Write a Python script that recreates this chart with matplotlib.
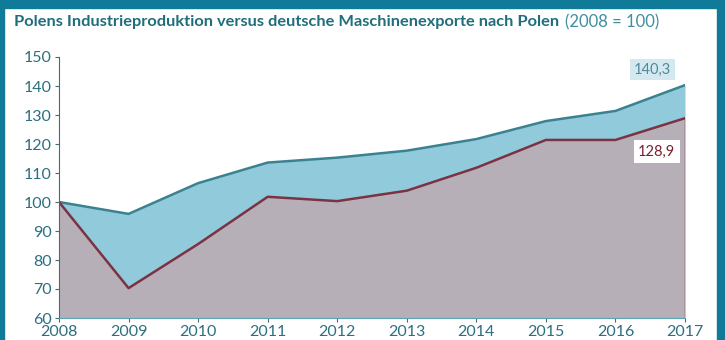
import matplotlib
matplotlib.use("Agg")
import matplotlib.pyplot as plt
from matplotlib.patches import Rectangle

years = [2008, 2009, 2010, 2011, 2012, 2013, 2014, 2015, 2016, 2017]
industrie = [100, 95.9, 106.5, 113.6, 115.3, 117.7, 121.7, 127.9, 131.4, 140.3]
maschinen = [100, 70.3, 85.5, 101.8, 100.3, 103.9, 111.8, 121.4, 121.4, 128.9]
yticks = [60, 70, 80, 90, 100, 110, 120, 130, 140, 150]

plt.rcParams['font.family'] = ['Lato', 'DejaVu Sans']

teal = '#0f7b98'
label_col = '#2b6f80'

fig = plt.figure(figsize=(7.25, 3.4), dpi=100)
ax = fig.add_axes([59/725, 22/340, 626/725, 261/340])

ax.fill_between(years, industrie, 60, color='#91cadb', lw=0)
ax.fill_between(years, maschinen, 60, color='#b7afb7', lw=0)
ax.plot(years, industrie, color='#3b8291', lw=1.8)
ax.plot(years, maschinen, color='#7b3343', lw=1.8)
ax.vlines(years[-1], 60, maschinen[-1], color='#7b3343', lw=1)

ax.set_xlim(2008, 2017)
ax.set_ylim(60, 150)
ax.set_xticks(years)
ax.set_yticks(yticks)
ax.tick_params(axis='both', direction='out', length=3, labelsize=11.5,
               labelcolor=label_col, color='#4a6a70', pad=2)
for s in ['top', 'right']:
    ax.spines[s].set_visible(False)
ax.spines['left'].set_color('#4a6a70')
ax.spines['bottom'].set_color('#5aa5b5')

ax.annotate('140,3', (years[-1], industrie[-1]), xytext=(-10, 11),
            textcoords='offset points', ha='right', va='center', fontsize=10.5,
            color='#4f8a9a', bbox=dict(boxstyle='square,pad=0.25', fc='#d4e9ef', ec='none'))
ax.annotate('128,9', (years[-1], maschinen[-1]), xytext=(-7, -24),
            textcoords='offset points', ha='right', va='center', fontsize=10.5,
            color='#7b2030', bbox=dict(boxstyle='square,pad=0.3', fc='white', ec='none'))

t = fig.text(14/725, 1 - 22/340, 'Polens Industrieproduktion versus deutsche Maschinenexporte nach Polen',
             fontsize=11.8, fontweight='bold', color='#1f6e7a', va='center', ha='left')
fig.canvas.draw()
bb = t.get_window_extent()
fig.text(bb.x1 / 725 + 6/725, 1 - 22/340, '(2008 = 100)', fontsize=12, color='#3f8fa0',
         va='center', ha='left')

# frame
fig.patches.append(Rectangle((0, 1 - 8/340), 1, 8/340, transform=fig.transFigure, color=teal, zorder=10))
fig.patches.append(Rectangle((0, 0), 4/725, 1, transform=fig.transFigure, color=teal, zorder=10))
fig.patches.append(Rectangle((1 - 8/725, 0), 8/725, 1, transform=fig.transFigure, color=teal, zorder=10))

fig.savefig('out.png', dpi=100)
